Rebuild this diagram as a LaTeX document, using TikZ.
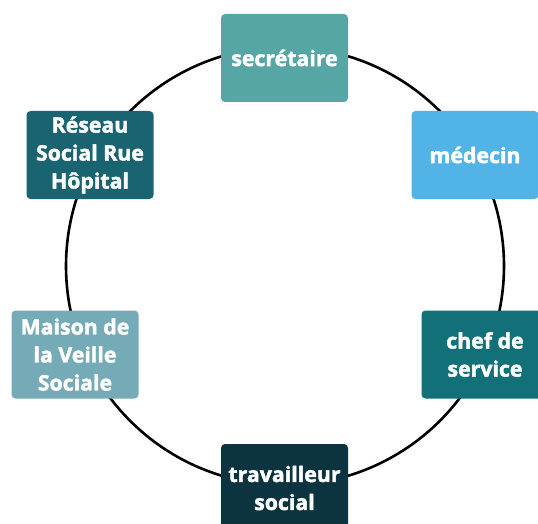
\documentclass[tikz,border=0pt]{standalone}
\usepackage{fontspec}
\setmainfont{Open Sans}[BoldFeatures={FakeBold=2}]
\definecolor{cSecr}{HTML}{56A6A6}
\definecolor{cMed}{HTML}{52B4E6}
\definecolor{cChef}{HTML}{127079}
\definecolor{cTrav}{HTML}{0B3440}
\definecolor{cMaison}{HTML}{75AAB7}
\definecolor{cReseau}{HTML}{1A6371}
\begin{document}
\begin{tikzpicture}[
	x=1pt,
	y=-1pt,
	line cap=round,
	line join=round,
	role/.style={
		rectangle,
		rounded corners=4pt,
		minimum width=127pt,
		minimum height=88pt,
		align=center,
		text=white,
		font=\fontsize{21.3}{28}\selectfont\bfseries,
		inner sep=0pt
		}
	]
	% Cadre de l'image
	\useasboundingbox (0,0) rectangle (538,524);
	
	% Centre du cercle
	\coordinate (O) at (285,266);
	
	% Le cercle
	\draw[line width=2.6pt] (O) circle (219);
	
	% Les six intervenants
	\node[role, fill=cSecr] (secr) at (284.5,58) {secrétaire};
	\node[role, fill=cMed] (med) at (475,155) {médecin};
	\node[role, fill=cChef] (chef) at (485,354.5) {chef de\\service};
	\node[role, fill=cTrav] (trav) at (284.5,488) {travailleur\\social};
	\node[role, fill=cMaison] (maison) at (75,354.5) {Maison de\\la Veille\\Sociale};
	\node[role, fill=cReseau] (reseau) at (90,155) {Réseau\\Social Rue\\Hôpital};
	
\end{tikzpicture}
\end{document}
